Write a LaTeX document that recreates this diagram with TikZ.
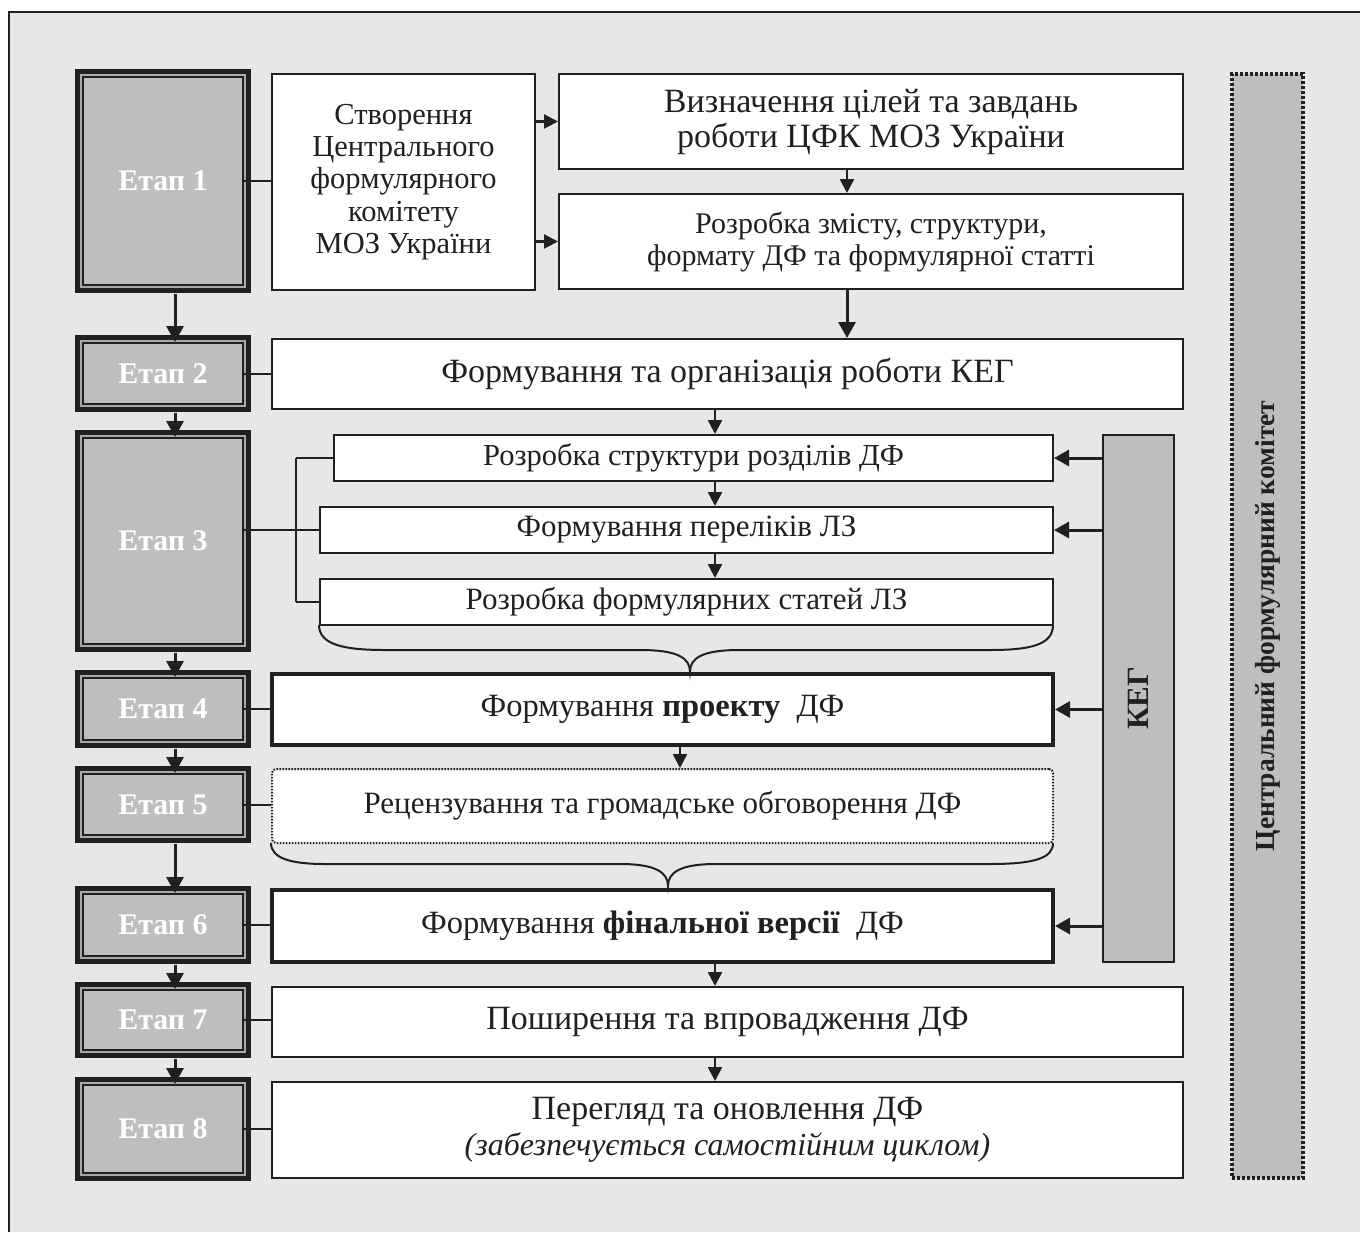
\documentclass[tikz,border=0pt]{standalone}
\usepackage{fontspec}
\setmainfont{Liberation Serif}
\usetikzlibrary{arrows.meta,calc}
\definecolor{bg}{HTML}{E6E7E7}
\definecolor{sg}{HTML}{BDBEC0}
\definecolor{dk}{HTML}{231F20}
\definecolor{gapc}{HTML}{A7A9AC}
\newcommand{\fsz}[2]{\fontsize{#1}{#2}\selectfont}
\begin{document}
\begin{tikzpicture}[x=1pt,y=-1pt,
  box/.style={draw=dk, fill=white, line width=2pt, inner sep=0pt, align=center, text=dk},
  thickbox/.style={box, line width=4pt},
  dotbox/.style={box, line width=2pt, dash pattern=on 1.6pt off 1.4pt, rounded corners=4pt},
  stagebox/.style={draw=dk, fill=sg, line width=2pt, inner sep=0pt, text=white, font=\fsz{30}{36}\bfseries, minimum width=160pt},
  sidebox/.style={draw=dk, fill=sg, line width=2pt, inner sep=0pt, text=dk, minimum width=71pt},
  arr/.style={draw=dk, line width=2.5pt, -{Triangle[length=14pt,width=14pt]}},
  karr/.style={draw=dk, line width=3pt, -{Triangle[length=15pt,width=16pt]}},
  bigarr/.style={draw=dk, line width=3pt, -{Triangle[length=16pt,width=17pt]}},
  conn/.style={draw=dk, line width=2pt},
  brc/.style={draw=dk, line width=2pt}
]
\useasboundingbox (0,0) rectangle (1360,1232);
\fill[white] (0,0) rectangle (1360,1232);
\fill[bg] (9,12) rectangle (1360,1232);
\draw[dk, line width=1.2pt] (9,1232) -- (9,12) -- (1360,12);

% stage frames
\foreach \ya/\yb in {69/293, 335/412, 430/652, 670/748, 766/843, 886/964, 982/1058, 1077/1181}{
  \fill[dk] (75,\ya) rectangle (251,\yb);
  \fill[gapc] (80,\ya+5) rectangle (246,\yb-5);
}
\node[stagebox, minimum height=208pt] (s1) at (163,181) {Етап 1};
\node[stagebox, minimum height=61pt] (s2) at (163,373.5) {Етап 2};
\node[stagebox, minimum height=206pt] (s3) at (163,541) {Етап 3};
\node[stagebox, minimum height=62pt] (s4) at (163,709) {Етап 4};
\node[stagebox, minimum height=61pt] (s5) at (163,804.5) {Етап 5};
\node[stagebox, minimum height=62pt] (s6) at (163,925) {Етап 6};
\node[stagebox, minimum height=60pt] (s7) at (163,1020) {Етап 7};
\node[stagebox, minimum height=88pt] (s8) at (163,1129) {Етап 8};

% content boxes
\node[box, minimum width=263pt, minimum height=216pt, font=\fsz{30.5}{32.3}] (c1) at (403.5,182)
  {Створення\\Центрального\\формулярного\\комітету\\МОЗ України};
\node[box, minimum width=624pt, minimum height=95pt, font=\fsz{34}{35}] (c2) at (871,121.5)
  {Визначення цілей та завдань\\роботи ЦФК МОЗ України};
\node[box, minimum width=624pt, minimum height=95pt, font=\fsz{30}{32}] (c3) at (871,241.5)
  {Розробка змісту, структури,\\формату ДФ та формулярної статті};
\node[box, minimum width=911pt, minimum height=70pt, font=\fsz{34}{38}] (c4) at (727.5,374)
  {Формування та організація роботи КЕГ};
\node[box, minimum width=719pt, minimum height=46pt, font=\fsz{30.5}{34}] (c5) at (693.5,458)
  {Розробка структури розділів ДФ};
\node[box, minimum width=733pt, minimum height=46pt, font=\fsz{31}{34}] (c6) at (686.5,530)
  {Формування переліків ЛЗ};
\node[box, minimum width=733pt, minimum height=46pt, font=\fsz{31}{34}] (c7) at (686.5,602)
  {Розробка формулярних статей ЛЗ};
\node[thickbox, minimum width=781pt, minimum height=71pt, font=\fsz{32.5}{36}] (c8) at (662.5,709.5)
  {Формування \textbf{проекту}\ \ ДФ};
\node[dotbox, minimum width=781pt, minimum height=74pt, font=\fsz{31}{34}] (c9) at (662.5,806)
  {Рецензування та громадське обговорення ДФ};
\node[thickbox, minimum width=781pt, minimum height=72pt, font=\fsz{32.5}{36}] (c10) at (662.5,926)
  {Формування \textbf{фінальної версії}\ \ ДФ};
\node[box, minimum width=911pt, minimum height=70pt, font=\fsz{34}{38}] (c11) at (727.5,1022)
  {Поширення та впровадження ДФ};
\node[box, minimum width=911pt, minimum height=96pt, font=\fsz{34}{36}] (c12) at (727.5,1130)
  {Перегляд та оновлення ДФ\\{\fsz{32}{36}\itshape (забезпечується самостійним циклом)}};

% side boxes
\node[sidebox, minimum height=527pt] (keg) at (1138.5,698.5) {};
\node[rotate=90, text=dk, font=\fsz{31}{36}\bfseries] (kegt) at (keg.center) {КЕГ};
\node[sidebox, minimum height=1104pt, line width=4pt, dash pattern=on 3.2pt off 1.8pt] (cfk) at (1267.5,626) {};
\node[rotate=90, text=dk, font=\fsz{27.5}{33}\bfseries] (cfkt) at (cfk.center) {Центральний формулярний комітет};

% helper coordinates
\coordinate (ax1) at (175,0);
\coordinate (ax2) at (847,0);
\coordinate (ax3) at (715,0);
\coordinate (ax4) at (680,0);
\coordinate (bx) at (296,0);

% stage arrows
\draw[bigarr] ($(s1.south -| ax1)+(0,8)$) -- (s2.north -| ax1);
\draw[bigarr] ($(s2.south -| ax1)+(0,8)$) -- (s3.north -| ax1);
\draw[bigarr] ($(s3.south -| ax1)+(0,8)$) -- (s4.north -| ax1);
\draw[bigarr] ($(s4.south -| ax1)+(0,8)$) -- (s5.north -| ax1);
\draw[bigarr] ($(s5.south -| ax1)+(0,8)$) -- (s6.north -| ax1);
\draw[bigarr] ($(s6.south -| ax1)+(0,8)$) -- (s7.north -| ax1);
\draw[bigarr] ($(s7.south -| ax1)+(0,8)$) -- (s8.north -| ax1);

% stage connectors
\draw[conn] (s1.east) -- (s1.east -| c1.west);
\draw[conn] (s2.east) -- (s2.east -| c4.west);
\draw[conn] (s3.east |- c6) -- (c6.west);
\draw[conn] (bx |- c5) -- (bx |- c7);
\draw[conn] (bx |- c5) -- (c5.west);
\draw[conn] (bx |- c7) -- (c7.west);
\draw[conn] (s4.east) -- (s4.east -| c8.west);
\draw[conn] (s5.east) -- (s5.east -| c9.west);
\draw[conn] (s6.east) -- (s6.east -| c10.west);
\draw[conn] (s7.east) -- (s7.east -| c11.west);
\draw[conn] (s8.east) -- (s8.east -| c12.west);

% content arrows
\draw[arr] (c1.east |- c2) -- (c2.west);
\draw[arr] (c1.east |- c3) -- (c3.west);
\draw[arr] (c2.south -| ax2) -- (c3.north -| ax2);
\draw[bigarr] (c3.south -| ax2) -- (c4.north -| ax2);
\draw[arr] (c4.south -| ax3) -- (c5.north -| ax3);
\draw[arr] (c5.south -| ax3) -- (c6.north -| ax3);
\draw[arr] (c6.south -| ax3) -- (c7.north -| ax3);
\draw[arr] (c8.south -| ax4) -- (c9.north -| ax4);
\draw[arr] (c10.south -| ax3) -- (c11.north -| ax3);
\draw[arr] (c11.south -| ax3) -- (c12.north -| ax3);

% KEG arrows
\draw[karr] (keg.west |- c5) -- (c5.east);
\draw[karr] (keg.west |- c6) -- (c6.east);
\draw[karr] (keg.west |- c8) -- (c8.east);
\draw[karr] (keg.west |- c10) -- (c10.east);

% braces
\draw[brc] (319,625) .. controls (319,645) and (345,650) .. (385,650) -- (640,650)
  .. controls (678,650) and (690,658) .. (690,672)
  .. controls (690,658) and (702,650) .. (740,650) -- (990,650)
  .. controls (1030,650) and (1053,645) .. (1053,625);
\draw[brc] (271,843) .. controls (271,858) and (290,864) .. (325,864) -- (620,864)
  .. controls (655,864) and (668,872) .. (668,886)
  .. controls (668,872) and (681,864) .. (716,864) -- (990,864)
  .. controls (1035,864) and (1053,858) .. (1053,843);
\end{tikzpicture}
\end{document}
